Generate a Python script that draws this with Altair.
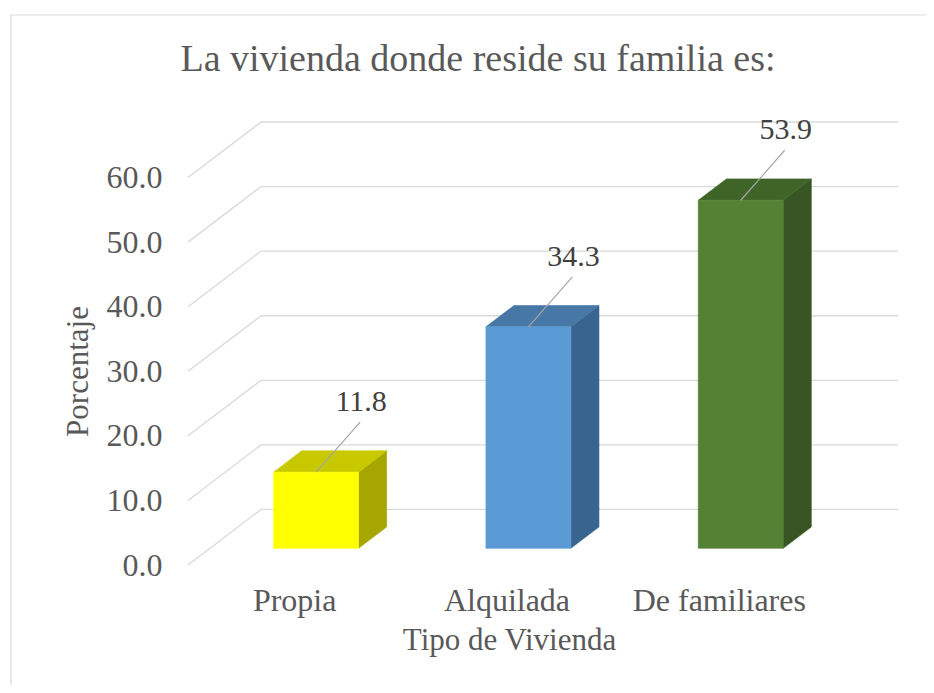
import json
import altair as alt
import pandas as pd

# ---------------- data ----------------
CATEGORIES = ["Propia", "Alquilada", "De familiares"]
VALUES = [11.8, 34.3, 53.9]
FRONT_COLORS = ["#FFFF00", "#5B9BD5", "#548235"]
TOP_COLORS = ["#C8C800", "#4677A5", "#3F6428"]
SIDE_COLORS = ["#A6A600", "#386590", "#375623"]
Y_TICKS = [0, 10, 20, 30, 40, 50, 60]

TITLE = "La vivienda donde reside su familia es:"
X_TITLE = "Tipo de Vivienda"
Y_TITLE = "Porcentaje"

# ---------------- layout constants (3D projection) ----------------
PLOT_W, PLOT_H = 710, 443
DEPTH_X = 0.344          # depth offset of back wall, in category units
DEPTH_Y = 8.6            # depth offset of back wall, in value units
X_MIN = -0.5
X_MAX = len(CATEGORIES) - 0.5 + DEPTH_X
Y_MAX = max(Y_TICKS) + DEPTH_Y
FRONT_FRAC = 0.3         # depth fraction where bar front face sits
BAR_DEPTH_FRAC = 0.385   # bar depth fraction
BAR_W = 0.40
PX_X = PLOT_W / (X_MAX - X_MIN)
PX_Y = PLOT_H / Y_MAX

FONT = "Liberation Serif"
TXT = "#595959"
GRID = "#D9D9D9"

fx, fy = FRONT_FRAC * DEPTH_X, FRONT_FRAC * DEPTH_Y
bdx, bdy = BAR_DEPTH_FRAC * DEPTH_X, BAR_DEPTH_FRAC * DEPTH_Y

front_rows, side_rows, top_rows, lead_rows = [], [], [], []
for i, (c, v) in enumerate(zip(CATEGORIES, VALUES)):
    x0 = i + fx - BAR_W / 2
    x1 = x0 + BAR_W
    y0 = fy
    y1 = fy + v
    front_rows.append(dict(cat=c, x0=x0, x1=x1, y0=y0, y1=y1, xc=i + fx, val=v))
    side_rows += [dict(cat=c, x=x1, lo=y0, hi=y1),
                  dict(cat=c, x=x1 + bdx, lo=y0 + bdy, hi=y1 + bdy)]
    top_rows += [dict(cat=c, y=y1, xa=x0, xb=x1),
                 dict(cat=c, y=y1 + bdy, xa=x0 + bdx, xb=x1 + bdx)]
    lead_rows.append(dict(cat=c, x=i + fx, y=y1,
                          x2=i + fx + 44 / PX_X, y2=y1 + 50 / PX_Y))

front_df = pd.DataFrame(front_rows)
side_df = pd.DataFrame(side_rows)
top_df = pd.DataFrame(top_rows)
lead_df = pd.DataFrame(lead_rows)
back_df = pd.DataFrame({"x": [X_MIN + DEPTH_X] * len(Y_TICKS),
                        "x2": [X_MAX] * len(Y_TICKS),
                        "y": [t + DEPTH_Y for t in Y_TICKS]})
diag_df = pd.DataFrame({"x": [X_MIN] * len(Y_TICKS),
                        "x2": [X_MIN + DEPTH_X] * len(Y_TICKS),
                        "y": Y_TICKS,
                        "y2": [t + DEPTH_Y for t in Y_TICKS]})

xs = alt.Scale(domain=[X_MIN, X_MAX], nice=False, zero=False)
ys = alt.Scale(domain=[0, Y_MAX], nice=False, zero=False)


def cscale(rng):
    return alt.Scale(domain=CATEGORIES, range=rng)


label_expr = json.dumps(CATEGORIES) + "[datum.value]"

x_axis = alt.Axis(values=[0, 1, 2], labelExpr=label_expr, title=X_TITLE,
                  domain=False, ticks=False, tickSize=0, grid=False,
                  labelFont=FONT, labelFontSize=32, labelColor=TXT,
                  labelBaseline="alphabetic", labelPadding=45,
                  labelFlush=False, labelOverlap=False,
                  titleFont=FONT, titleFontSize=31, titleColor=TXT,
                  titleFontWeight="normal", titleBaseline="alphabetic",
                  titleAlign="center", titleX=321, titleY=84)
y_axis = alt.Axis(values=Y_TICKS, format=".1f", title=Y_TITLE,
                  domain=False, ticks=False, tickSize=0, grid=False,
                  labelFont=FONT, labelFontSize=32, labelColor=TXT,
                  labelPadding=26,
                  titleFont=FONT, titleFontSize=31, titleColor=TXT,
                  titleFontWeight="normal", titleBaseline="middle",
                  titleAlign="center", titleAngle=270, titleX=-110, titleY=249)


def X(field):
    return alt.X(field, scale=xs, axis=x_axis)


def Y(field):
    return alt.Y(field, scale=ys, axis=y_axis)


back = alt.Chart(back_df).mark_rule(color=GRID, strokeWidth=1.3).encode(
    x=X("x:Q"), x2="x2:Q", y=Y("y:Q"))

diag = alt.Chart(diag_df).mark_rule(color=GRID, strokeWidth=1.3).encode(
    x=X("x:Q"), x2="x2:Q", y=Y("y:Q"), y2="y2:Q")

front = alt.Chart(front_df).mark_rect(strokeWidth=0.6).encode(
    x=X("x0:Q"), x2="x1:Q", y=Y("y0:Q"), y2="y1:Q",
    color=alt.Color("cat:N", scale=cscale(FRONT_COLORS), legend=None),
    stroke=alt.Stroke("cat:N", scale=cscale(FRONT_COLORS), legend=None))

side = alt.Chart(side_df).mark_area(strokeWidth=0.6).encode(
    x=X("x:Q"), y=Y("lo:Q"), y2="hi:Q",
    color=alt.Color("cat:N", scale=cscale(SIDE_COLORS), legend=None),
    stroke=alt.Stroke("cat:N", scale=cscale(SIDE_COLORS), legend=None))

top = alt.Chart(top_df).mark_area(orient="horizontal", strokeWidth=0.6).encode(
    y=Y("y:Q"), x=X("xa:Q"), x2="xb:Q",
    color=alt.Color("cat:N", scale=cscale(TOP_COLORS), legend=None),
    stroke=alt.Stroke("cat:N", scale=cscale(TOP_COLORS), legend=None))

lead = alt.Chart(lead_df).mark_rule(color="#A6A6A6", strokeWidth=1.2).encode(
    x=X("x:Q"), x2="x2:Q", y=Y("y:Q"), y2="y2:Q")

labels = alt.Chart(front_df).mark_text(
    font=FONT, fontSize=30, color="#404040", dx=45, dy=-61,
    baseline="alphabetic", align="center"
).encode(
    x=X("xc:Q"), y=Y("y1:Q"),
    text=alt.Text("val:Q", format=".1f"))

border = alt.Chart(pd.DataFrame({"a": [0]})).mark_rect(
    fillOpacity=0, stroke=GRID, strokeWidth=1.2
).encode(x=alt.value(11 - 188), x2=alt.value(PLOT_W + 300),
         y=alt.value(15 - 122), y2=alt.value(PLOT_H + 300))

chart = alt.layer(back, diag, side, top, front, lead, labels, border).resolve_scale(
    color="independent", stroke="independent"
).properties(
    width=PLOT_W, height=PLOT_H,
    autosize=alt.AutoSizeParams(type="none"),
    padding={"left": 180, "top": 114, "right": 28, "bottom": 120},
    title=alt.TitleParams(text=TITLE, font=FONT, fontSize=38, fontWeight="normal",
                          color=TXT, anchor="middle", frame="group", offset=0,
                          dx=-65, dy=95, baseline="alphabetic"),
).configure_view(strokeWidth=0)

chart.save("out.html", embed_options={"renderer": "svg", "actions": False})
